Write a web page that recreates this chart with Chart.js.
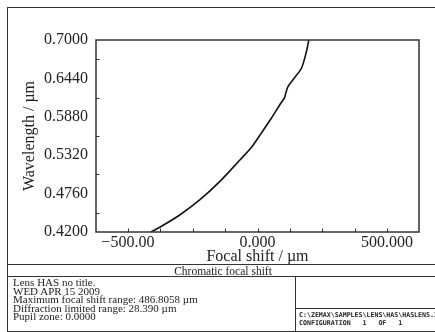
<!DOCTYPE html>
<html>
<head>
<meta charset="utf-8">
<script src="https://cdn.jsdelivr.net/npm/chart.js@4"></script>
<style>
  body { margin: 0; background: #fff; width: 435px; height: 332px; overflow: hidden; position: relative; font-family: "Liberation Serif", serif; color: #222; }
  #chart { position: absolute; left: 0; top: 0; }
  .frame { position: absolute; left: 7px; top: 7px; width: 440px; height: 323px; border: 1.5px solid #333; }
  .hline { position: absolute; height: 0; border-top: 1.5px solid #333; }
  .vline { position: absolute; width: 0; border-left: 1.5px solid #333; }
  .t { position: absolute; white-space: pre; }
  .info { font-size: 11px; line-height: 8.6px; left: 13px; top: 278px; }
  .mono { font-family: "DejaVu Sans Mono", monospace; font-weight: bold; font-size: 6.6px; line-height: 8px; left: 299px; top: 311px; }
</style>
</head>
<body>
<canvas id="chart" width="435" height="264"></canvas>
<div class="frame"></div>
<div class="hline" style="left:8px; width:430px; top:264px;"></div>
<div class="hline" style="left:8px; width:430px; top:276px;"></div>
<div class="vline" style="left:295px; top:277px; height:55px;"></div>
<div class="hline" style="left:296px; width:140px; top:308px;"></div>
<div class="t" id="title" style="left:8px; width:430px; text-align:center; top:264.5px; font-size:11.5px; line-height:12px;"></div>
<div class="t info" id="info"></div>
<div class="t mono" id="config"></div>
<script>
// curve: focal shift (µm) vs wavelength (µm)
const focalShift = [-411, -377, -300, -223, -146, -68, -23, 15, 54, 86, 105, 109, 118, 137, 170, 189, 198];
const wavelength = [0.4200, 0.4269, 0.4448, 0.4667, 0.4934, 0.5250, 0.5435, 0.5644, 0.5863, 0.6056, 0.6164, 0.6227, 0.6325, 0.6421, 0.6592, 0.6835, 0.7000];

// axes
const xTickValues = [-500, -375, -250, -125, 0, 125, 250, 375, 500];
const xTickLabels = { '-500': '\u2212500.00', '0': '0.000', '500': '500.000' };
const yTickValues = [0.420, 0.448, 0.476, 0.504, 0.532, 0.560, 0.588, 0.616, 0.644, 0.672, 0.700];
const yTickLabels = ['0.4200', '', '0.4760', '', '0.5320', '', '0.5880', '', '0.6440', '', '0.7000'];

const chartTitle = 'Chromatic focal shift';
const infoLines = [
  'Lens HAS no title.',
  'WED APR 15 2009',
  'Maximum focal shift range: 486.8058 \u00b5m',
  'Diffraction limited range: 28.390 \u00b5m',
  'Pupil zone: 0.0000'
];
const configLines = ['C:\\ZEMAX\\SAMPLES\\LENS\\HAS\\HASLENS.ZMX', 'CONFIGURATION   1   OF   1'];

document.getElementById('title').textContent = chartTitle;
document.getElementById('info').textContent = infoLines.join('\n');
document.getElementById('config').textContent = configLines.join('\n');

const ink = '#222';

// plot box + inward tick marks
const boxTicks = {
  id: 'boxTicks',
  afterDraw(chart) {
    const { ctx, chartArea: a, scales } = chart;
    ctx.save();
    ctx.strokeStyle = '#333';
    ctx.lineWidth = 1.5;
    ctx.strokeRect(a.left, a.top, a.right - a.left, a.bottom - a.top);
    ctx.lineWidth = 1;
    ctx.beginPath();
    xTickValues.forEach(v => {
      const px = Math.round(scales.x.getPixelForValue(v)) + 0.5;
      ctx.moveTo(px, a.bottom);
      ctx.lineTo(px, a.bottom - 3.5);
    });
    yTickValues.forEach((v, i) => {
      if (yTickLabels[i]) return;
      const py = Math.round(scales.y.getPixelForValue(v)) + 0.5;
      ctx.moveTo(a.left, py);
      ctx.lineTo(a.left + 3.5, py);
    });
    ctx.stroke();
    ctx.restore();
  }
};

new Chart(document.getElementById('chart'), {
  type: 'scatter',
  data: {
    datasets: [{
      data: focalShift.map((x, i) => ({ x, y: wavelength[i] })),
      showLine: true,
      borderColor: '#111',
      borderWidth: 1.6,
      pointRadius: 0,
      tension: 0.25,
      fill: false
    }]
  },
  options: {
    responsive: false,
    animation: false,
    layout: { padding: { top: 40, right: 16, left: 0, bottom: 0 } },
    plugins: { legend: { display: false }, tooltip: { enabled: false } },
    scales: {
      x: {
        type: 'linear',
        min: -623, max: 623,
        afterBuildTicks: s => { s.ticks = xTickValues.map(v => ({ value: v })); },
        afterFit: s => { s.height = 32; },
        grid: { display: false, drawTicks: false },
        border: { display: false },
        ticks: {
          autoSkip: false, maxRotation: 0, padding: 1,
          color: ink,
          font: { family: 'Liberation Serif', size: 16 },
          callback: v => xTickLabels[String(v)] || ''
        },
        title: {
          display: true, text: 'Focal shift / \u00b5m', color: ink,
          font: { family: 'Liberation Serif', size: 16 },
          padding: { top: 0, bottom: -2 }
        }
      },
      y: {
        type: 'linear',
        min: 0.42, max: 0.70,
        afterBuildTicks: s => { s.ticks = yTickValues.map(v => ({ value: v })); },
        afterFit: s => { s.width = 96; },
        grid: { display: false, drawTicks: false },
        border: { display: false },
        ticks: {
          autoSkip: false, padding: 8,
          color: ink,
          font: { family: 'Liberation Serif', size: 16 },
          callback: (v, i) => yTickLabels[i]
        },
        title: {
          display: true, text: 'Wavelength / \u00b5m', color: ink,
          font: { family: 'Liberation Serif', size: 16 },
          padding: { top: 20, bottom: 0 }
        }
      }
    }
  },
  plugins: [boxTicks]
});
</script>
</body>
</html>
